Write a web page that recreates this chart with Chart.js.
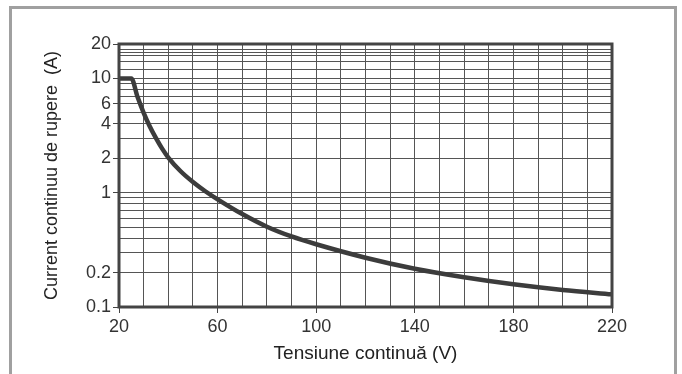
<!DOCTYPE html>
<html>
<head>
<meta charset="utf-8">
<script src="https://cdn.jsdelivr.net/npm/chart.js@4.4.0/dist/chart.umd.min.js"></script>
<style>
  html, body { margin: 0; padding: 0; background: #fff; }
  #wrap { position: relative; width: 682px; height: 374px; overflow: hidden; }
  #frame {
    position: absolute; left: 9px; top: 6px; width: 668px; height: 400px;
    border: 3px solid #a0a0a0; box-sizing: border-box;
  }
  canvas { position: absolute; left: 0; top: 0; }
</style>
</head>
<body>
<div id="wrap">
  <div id="frame"></div>
  <canvas id="myChart" width="682" height="374"></canvas>
</div>
<script>
// voltage (V) -> breaking current (A)
const voltage = [20, 25, 27.5, 30, 32.5, 35, 37.5, 40, 45, 50, 55, 60, 70, 80, 90, 100, 120, 140, 160, 180, 200, 220];
const current = [10, 10, 6.9, 5.0, 3.8, 3.0, 2.43, 2.03, 1.54, 1.24, 1.03, 0.875, 0.65, 0.504, 0.414, 0.354, 0.27, 0.216, 0.182, 0.158, 0.141, 0.129];

// log grid lines on the current axis and the ones that get a label
const yGrid = [0.1, 0.2, 0.3, 0.4, 0.5, 0.6, 0.7, 0.8, 0.9, 1, 2, 3, 4, 5, 6, 7, 8, 9, 10, 12, 14, 16, 17, 18, 20];
const yLabels = [0.1, 0.2, 1, 2, 4, 6, 10, 20];
const xLabels = [20, 60, 100, 140, 180, 220];

const tickFont = { family: 'Liberation Sans', size: 18 };

// box round the plot area
const boxPlugin = {
  id: 'box',
  afterDraw(chart) {
    const a = chart.chartArea, ctx = chart.ctx;
    ctx.save();
    ctx.strokeStyle = '#444';
    ctx.lineWidth = 3;
    ctx.strokeRect(a.left, a.top, a.right - a.left, a.bottom - a.top);
    ctx.restore();
  }
};

const data = {
  datasets: [{
    data: voltage.map((v, i) => ({ x: v, y: current[i] })),
    borderColor: '#3c3c3c',
    borderWidth: 4.5,
    pointRadius: 0,
    cubicInterpolationMode: 'monotone',
    fill: false
  }]
};

const config = {
  type: 'line',
  data: data,
  plugins: [boxPlugin],
  options: {
    responsive: false,
    animation: false,
    layout: { padding: { top: 44, right: 70, left: 0, bottom: 0 } },
    plugins: { legend: { display: false }, tooltip: { enabled: false } },
    scales: {
      x: {
        type: 'linear',
        min: 20,
        max: 220,
        afterFit: (s) => { s.height = 67; },
        ticks: {
          stepSize: 10,
          autoSkip: false,
          maxRotation: 0,
          color: '#333',
          font: tickFont,
          padding: 3,
          callback: (v) => xLabels.includes(v) ? String(v) : ''
        },
        grid: {
          color: '#555',
          lineWidth: 1,
          tickLength: 6,
          tickColor: (c) => (c.tick && xLabels.includes(c.tick.value)) ? '#444' : 'rgba(0,0,0,0)'
        },
        border: { display: false },
        title: {
          display: true,
          text: 'Tensiune continuă (V)',
          color: '#222',
          font: { family: 'Liberation Sans', size: 19 },
          padding: { top: 0, bottom: 9 }
        }
      },
      y: {
        type: 'logarithmic',
        min: 0.1,
        max: 20,
        afterFit: (s) => { s.width = 119; },
        afterBuildTicks: (axis) => { axis.ticks = yGrid.map(v => ({ value: v })); },
        ticks: {
          autoSkip: false,
          color: '#333',
          font: tickFont,
          padding: 2,
          callback: (v) => yLabels.includes(v) ? String(v) : ''
        },
        grid: {
          color: '#555',
          lineWidth: 1,
          tickLength: 6,
          tickColor: (c) => (c.tick && yLabels.includes(c.tick.value)) ? '#444' : 'rgba(0,0,0,0)'
        },
        border: { display: false },
        title: {
          display: true,
          text: 'Current continuu de rupere  (A)',
          color: '#222',
          font: { family: 'Liberation Sans', size: 18 },
          padding: { top: 41, bottom: 0 }
        }
      }
    }
  }
};

new Chart(document.getElementById('myChart'), config);
</script>
</body>
</html>
